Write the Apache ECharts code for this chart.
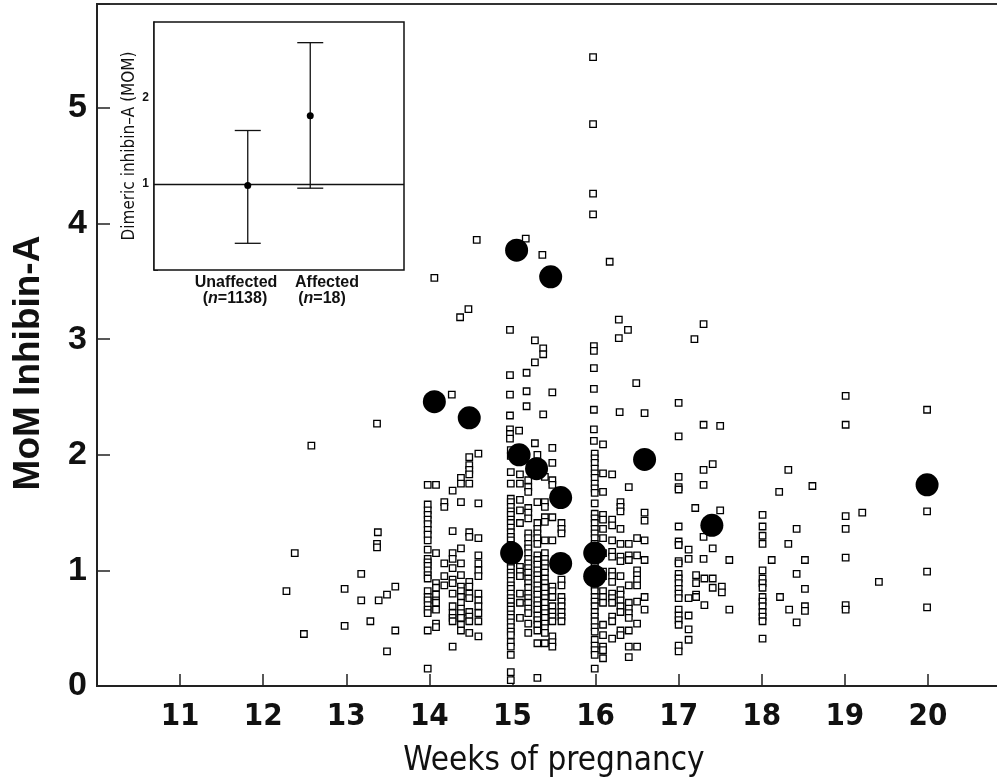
<!DOCTYPE html>
<html>
<head>
<meta charset="utf-8">
<script src="https://cdn.jsdelivr.net/npm/echarts@6/dist/echarts.min.js"></script>
<style>
  html, body { margin: 0; padding: 0; background: #fff; }
  #chart { width: 997px; height: 784px; }
</style>
</head>
<body>
<div id="chart"></div>
<script>
// unaffected pregnancies, grouped as [week, [MoM values]]
const weeks12to13 = [
  [12.28, [0.82]], [12.38, [1.15]], [12.49, [0.45]], [12.58, [2.08]],
  [12.98, [0.84, 0.52]], [13.18, [0.97, 0.74]], [13.29, [0.56]],
  [13.37, [2.27, 1.23, 1.20]], [13.38, [1.33]], [13.39, [0.74]],
  [13.49, [0.79, 0.30]], [13.59, [0.86, 0.48]],
];
const weeks14 = [
  [13.98, [1.74, 1.57, 1.52, 1.48, 1.44, 1.40, 1.35, 1.31, 1.26, 1.18, 1.10, 1.07, 1.04, 1.00, 0.96, 0.93, 0.82, 0.77, 0.74, 0.70, 0.66, 0.63, 0.48, 0.15]],
  [14.06, [3.53]],
  [14.08, [1.74, 1.15, 0.89, 0.85, 0.79, 0.74, 0.72, 0.66, 0.54, 0.51]],
  [14.18, [1.59, 1.55, 1.06, 0.95, 0.87]],
  [14.27, [2.52]],
  [14.28, [1.69, 1.34, 1.15, 1.10, 1.02, 0.92, 0.89, 0.80, 0.69, 0.63, 0.59, 0.56, 0.34]],
  [14.37, [3.19]],
  [14.38, [1.80, 1.75, 1.59, 1.19, 1.06, 0.96, 0.86, 0.82, 0.77, 0.72, 0.67, 0.63, 0.59, 0.53, 0.48]],
  [14.47, [3.26]],
  [14.48, [1.98, 1.91, 1.87, 1.83, 1.75, 1.33, 1.29, 0.90, 0.86, 0.80, 0.76, 0.64, 0.60, 0.56, 0.46]],
  [14.57, [3.86]],
  [14.59, [2.01, 1.58, 1.28, 1.13, 1.06, 1.00, 0.95, 0.80, 0.74, 0.69, 0.63, 0.56, 0.43]],
];
const weeks15 = [
  [14.97, [3.08, 2.69, 2.52, 2.34, 2.22, 2.18, 2.14]],
  [14.98, [2.04, 1.99, 1.85, 1.75, 1.62, 1.59, 1.55, 1.51, 1.48, 1.44, 1.41, 1.37, 1.33, 1.29, 1.26, 1.22, 1.18, 1.06, 1.02, 0.98, 0.95, 0.91, 0.87, 0.84, 0.80, 0.76, 0.73, 0.69, 0.66, 0.62, 0.59, 0.55, 0.51, 0.47, 0.44, 0.38, 0.34, 0.27, 0.12, 0.05]],
  [15.08, [2.21]],
  [15.09, [1.83, 1.75, 1.61, 1.52, 1.41, 1.03, 0.99, 0.95, 0.80, 0.72, 0.59]],
  [15.16, [3.87]],
  [15.17, [2.71, 2.55, 2.42]],
  [15.19, [1.78, 1.72, 1.68, 1.54, 1.50, 1.45, 1.32, 1.28, 1.23, 1.19, 1.15, 1.10, 1.06, 1.02, 0.98, 0.93, 0.89, 0.85, 0.80, 0.76, 0.72, 0.67, 0.63, 0.54, 0.46]],
  [15.27, [2.99, 2.80, 2.10]],
  [15.30, [2.00, 1.59, 1.41, 1.36, 1.32, 1.28, 1.23, 1.13, 1.09, 1.05, 1.00, 0.96, 0.92, 0.87, 0.83, 0.79, 0.74, 0.70, 0.66, 0.61, 0.57, 0.53, 0.48, 0.37, 0.07]],
  [15.36, [3.73]],
  [15.37, [2.92, 2.87, 2.35]],
  [15.39, [1.81, 1.59, 1.55, 1.46, 1.42, 1.26, 1.15, 1.10, 1.06, 1.02, 0.98, 0.93, 0.89, 0.85, 0.80, 0.76, 0.72, 0.67, 0.63, 0.59, 0.54, 0.50, 0.46, 0.37]],
  [15.48, [2.54, 2.06, 1.93, 1.78, 1.74, 1.46, 1.26, 0.86, 0.82, 0.77, 0.69, 0.64, 0.60, 0.56, 0.43, 0.38, 0.34]],
  [15.59, [1.41, 1.36, 1.32, 0.92, 0.87, 0.77, 0.73, 0.69, 0.64, 0.60, 0.56]],
];
const weeks16 = [
  [15.97, [5.44, 4.86, 4.26, 4.08]],
  [15.98, [2.94, 2.90, 2.75, 2.57, 2.39, 2.22, 2.12]],
  [15.99, [2.01, 1.97, 1.93, 1.88, 1.84, 1.80, 1.75, 1.71, 1.67, 1.58, 1.49, 1.45, 1.41, 1.36, 1.32, 1.28, 1.23, 1.19, 1.06, 1.03, 0.86, 0.82, 0.77, 0.73, 0.69, 0.64, 0.60, 0.56, 0.51, 0.47, 0.40, 0.35, 0.31, 0.27, 0.15]],
  [16.09, [2.09, 1.84, 1.68, 1.48, 1.44, 1.36, 1.28, 1.15, 0.99, 0.95, 0.82, 0.77, 0.72, 0.53, 0.44, 0.34, 0.31, 0.24]],
  [16.17, [3.67]],
  [16.20, [1.83, 1.44, 1.39, 1.26, 1.16, 1.12, 0.99, 0.95, 0.90, 0.80, 0.76, 0.72, 0.60, 0.56, 0.41]],
  [16.28, [3.17, 3.01]],
  [16.29, [2.37]],
  [16.30, [1.59, 1.55, 1.51, 1.36, 1.23, 1.12, 1.08, 0.95, 0.83, 0.79, 0.74, 0.69, 0.64, 0.48, 0.44]],
  [16.39, [3.08]],
  [16.40, [1.72, 1.23, 1.13, 1.09, 0.87, 0.72, 0.67, 0.63, 0.59, 0.48, 0.34, 0.25]],
  [16.49, [2.62]],
  [16.50, [1.28, 1.13, 1.00, 0.96, 0.92, 0.87, 0.73, 0.54, 0.34]],
  [16.59, [2.36, 1.50, 1.43, 1.26, 1.09, 0.77, 0.66]],
];
const weeks17 = [
  [17.00, [2.45, 2.16, 1.81, 1.72, 1.70, 1.38, 1.25, 1.22, 1.08, 1.06, 0.97, 0.93, 0.89, 0.84, 0.80, 0.76, 0.66, 0.61, 0.57, 0.53, 0.35, 0.30]],
  [17.12, [1.18, 1.10, 0.76, 0.61, 0.49, 0.40]],
  [17.19, [3.00]],
  [17.20, [1.54]],
  [17.21, [0.96, 0.89, 0.79, 0.77]],
  [17.30, [3.13, 2.26, 1.87, 1.74, 1.29, 1.10]],
  [17.31, [0.93, 0.70]],
  [17.41, [1.92, 1.19, 0.93, 0.85]],
  [17.50, [2.25, 1.52]],
  [17.52, [0.86, 0.81]],
  [17.61, [1.09, 0.66]],
];
const weeks18to20 = [
  [18.01, [1.48, 1.38, 1.30, 1.23, 1.00, 0.93, 0.89, 0.85, 0.77, 0.73, 0.69, 0.64, 0.60, 0.56, 0.41]],
  [18.12, [1.09]], [18.21, [1.68]], [18.22, [0.77]],
  [18.32, [1.87, 1.23]], [18.33, [0.66]],
  [18.42, [1.36, 0.97, 0.55]],
  [18.52, [1.09, 0.84, 0.69, 0.65]],
  [18.61, [1.73]],
  [19.01, [2.51, 2.26, 1.47, 1.36, 1.11, 0.70, 0.66]],
  [19.21, [1.50]], [19.41, [0.90]],
  [19.99, [2.39, 1.51, 0.99, 0.68]],
];

// affected pregnancies [week, MoM]
const affected = [
  [15.05, 3.77], [15.46, 3.54], [14.06, 2.46], [14.48, 2.32], [15.08, 2.00],
  [15.29, 1.88], [15.58, 1.63], [14.99, 1.15], [15.58, 1.06], [15.99, 1.15],
  [15.99, 0.95], [16.59, 1.96], [17.40, 1.39], [19.99, 1.74],
];

// inset: median and range of dimeric inhibin-A
const insetGroups = ['Unaffected', 'Affected'];
const insetN = [1138, 18];
const insetPos = [1.5, 2.5];
const insetMedian = [0.98, 1.79];
const insetLow = [0.31, 0.95];
const insetHigh = [1.62, 2.64];

const flat = (cols) => cols.flatMap(([w, vals]) => vals.map((v) => [w, v]));
const unaffected = [].concat(
  flat(weeks12to13), flat(weeks14), flat(weeks15),
  flat(weeks16), flat(weeks17), flat(weeks18to20)
);

const NARROW = "'Liberation Sans Narrow', 'DejaVu Sans Condensed', sans-serif";
const SANS = "'Liberation Sans', Arial, sans-serif";

const chart = echarts.init(document.getElementById('chart'), null, { renderer: 'canvas' });

const option = {
  animation: false,
  backgroundColor: '#fff',
  grid: [
    {
      left: 97, top: 4, width: 914, height: 682,
      outerBoundsMode: 'none', containLabel: false,
      show: true, borderColor: '#333', borderWidth: 2, backgroundColor: 'transparent',
    },
    {
      left: 154, top: 22, width: 250, height: 248,
      outerBoundsMode: 'none', containLabel: false,
      show: true, borderColor: '#111', borderWidth: 1.5, backgroundColor: '#fff', z: 5,
    },
  ],
  xAxis: [
    {
      gridIndex: 0, type: 'value', min: 10, max: 21, interval: 1,
      axisLine: { lineStyle: { color: '#222', width: 2 } },
      axisTick: { inside: true, length: 12, lineStyle: { color: '#222', width: 1.5 } },
      axisLabel: {
        margin: 15, color: '#111', fontFamily: NARROW, fontWeight: 'bold', fontSize: 31,
        formatter: (v) => (v > 10 && v < 21 ? String(v) : ''),
      },
      splitLine: { show: false },
      name: 'Weeks of pregnancy', nameLocation: 'middle', nameGap: 59,
      nameTextStyle: { color: '#111', fontFamily: NARROW, fontSize: 33 },
    },
    { gridIndex: 1, type: 'value', min: 0, max: 4, show: false },
  ],
  yAxis: [
    {
      gridIndex: 0, type: 'value', min: 0, max: 5.9, interval: 1,
      axisLine: { show: true, lineStyle: { color: '#222', width: 2 } },
      axisTick: { show: true, inside: true, length: 13, lineStyle: { color: '#222', width: 1.5 } },
      axisLabel: {
        margin: 10, color: '#111', fontFamily: SANS, fontWeight: 'bold', fontSize: 34,
        formatter: (v) => (Number.isInteger(v) ? String(v) : ''),
      },
      splitLine: { show: false },
      name: 'MoM Inhibin-A', nameLocation: 'middle', nameRotate: 90, nameGap: 50,
      nameTextStyle: { color: '#111', fontFamily: SANS, fontWeight: 'bold', fontSize: 37, padding: [0, 36, 0, 0] },
    },
    {
      gridIndex: 1, type: 'value', min: 0, max: 2.88, interval: 0.1,
      axisLine: { show: true, lineStyle: { color: '#111', width: 1.5 } },
      axisTick: { show: true, inside: true, length: 4, lineStyle: { color: '#333', width: 1 } },
      axisLabel: {
        margin: 5, color: '#111', fontFamily: SANS, fontWeight: 'bold', fontSize: 12,
        formatter: (v) => (Math.abs(v - 1) < 1e-6 ? '1' : Math.abs(v - 2) < 1e-6 ? '2' : ''),
      },
      splitLine: { show: false },
      name: 'Dimeric inhibin\u2013A (MOM)', nameLocation: 'middle', nameRotate: 90, nameGap: 16,
      nameTextStyle: { color: '#111', fontFamily: NARROW, fontSize: 17 },
    },
  ],
  series: [
    {
      name: 'Unaffected', type: 'scatter', xAxisIndex: 0, yAxisIndex: 0,
      symbol: 'rect', symbolSize: 6.5,
      itemStyle: { color: '#fff', borderColor: '#000', borderWidth: 1.3, opacity: 1 },
      data: unaffected, z: 2,
    },
    {
      name: 'Affected', type: 'scatter', xAxisIndex: 0, yAxisIndex: 0,
      symbol: 'circle', symbolSize: 23,
      itemStyle: { color: '#000', opacity: 1 },
      data: affected, z: 3,
    },
    {
      type: 'custom', xAxisIndex: 1, yAxisIndex: 1, z: 10,
      data: insetPos.map((p, i) => [p, insetLow[i], insetHigh[i]]),
      encode: { x: 0, y: [1, 2] },
      renderItem: (params, api) => {
        const lo = api.coord([api.value(0), api.value(1)]);
        const hi = api.coord([api.value(0), api.value(2)]);
        const w = 13;
        const style = { stroke: '#111', lineWidth: 1.3 };
        return {
          type: 'group',
          children: [
            { type: 'line', shape: { x1: lo[0], y1: lo[1], x2: hi[0], y2: hi[1] }, style },
            { type: 'line', shape: { x1: lo[0] - w, y1: lo[1], x2: lo[0] + w, y2: lo[1] }, style },
            { type: 'line', shape: { x1: hi[0] - w, y1: hi[1], x2: hi[0] + w, y2: hi[1] }, style },
          ],
        };
      },
    },
    {
      type: 'scatter', xAxisIndex: 1, yAxisIndex: 1, z: 11,
      symbol: 'circle', symbolSize: 7,
      itemStyle: { color: '#000', opacity: 1 },
      data: insetPos.map((p, i) => [p, insetMedian[i]]),
      markLine: {
        silent: true, symbol: 'none', label: { show: false },
        lineStyle: { color: '#111', type: 'solid', width: 1.3 },
        data: [{ yAxis: 1 }],
      },
    },
  ],
  graphic: [
    {
      type: 'text', x: 236, y: 283, z: 20,
      style: { text: insetGroups[0], fill: '#111', font: `bold 16px ${SANS}`, align: 'center', verticalAlign: 'middle' },
    },
    {
      type: 'text', x: 235, y: 299, z: 20,
      style: {
        text: `{r|(}{i|n}{r|=${insetN[0]})}`, align: 'center', verticalAlign: 'middle',
        rich: {
          r: { fill: '#111', font: `bold 16px ${SANS}` },
          i: { fill: '#111', font: `italic bold 16px ${SANS}` },
        },
      },
    },
    {
      type: 'text', x: 327, y: 283, z: 20,
      style: { text: insetGroups[1], fill: '#111', font: `bold 16px ${SANS}`, align: 'center', verticalAlign: 'middle' },
    },
    {
      type: 'text', x: 322, y: 299, z: 20,
      style: {
        text: `{r|(}{i|n}{r|=${insetN[1]})}`, align: 'center', verticalAlign: 'middle',
        rich: {
          r: { fill: '#111', font: `bold 16px ${SANS}` },
          i: { fill: '#111', font: `italic bold 16px ${SANS}` },
        },
      },
    },
  ],
};

chart.setOption(option);
</script>
</body>
</html>
